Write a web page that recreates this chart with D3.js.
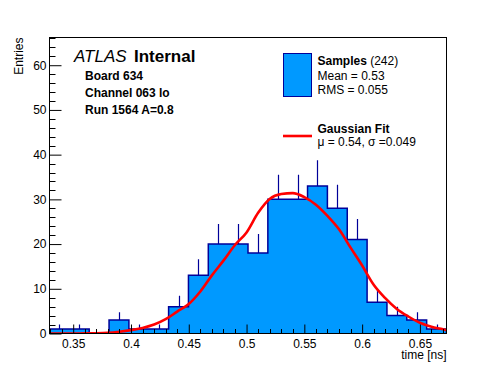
<!DOCTYPE html>
<html>
<head>
<meta charset="utf-8">
<script src="https://cdn.jsdelivr.net/npm/d3@7"></script>
<style>
  html, body { margin: 0; padding: 0; background: #fff; }
  svg { display: block; font-family: "Liberation Sans", Arial, Helvetica, sans-serif; }
</style>
</head>
<body>
<div id="chart"></div>
<script>
// histogram: 20 equal bins across the x range
var xRange = [0.3295, 0.673];
var counts = [1, 1, 0, 3, 1, 1, 6, 13, 20, 20, 18, 30, 30, 33, 28, 21, 7, 4, 3, 1];

// gaussian fit curve
var fitX = [0.33, 0.34, 0.35, 0.36, 0.37, 0.38, 0.39, 0.40, 0.41, 0.42, 0.43, 0.44,
            0.45, 0.46, 0.47, 0.48, 0.49, 0.50, 0.51, 0.52, 0.53, 0.54, 0.55, 0.56,
            0.57, 0.58, 0.59, 0.60, 0.61, 0.62, 0.63, 0.64, 0.65, 0.66, 0.67, 0.673];
var fitY = [0, 0, 0, 0.02, 0.05, 0.15, 0.4, 0.75, 1.25, 2.0, 3.2, 4.9,
            6.6, 9.4, 13.0, 16.3, 19.8, 22.6, 27.0, 30.1, 31.2, 31.4, 30.5, 28.8,
            26.3, 23.3, 19.2, 15.2, 10.9, 7.9, 5.5, 3.8, 2.4, 1.5, 0.95, 0.75];

var xTicks = [0.35, 0.4, 0.45, 0.5, 0.55, 0.6, 0.65];
var yTicks = [0, 10, 20, 30, 40, 50, 60];
var yMax = 66.2;

var infoLines = ["Board 634", "Channel 063 lo", "Run 1564 A=0.8"];

var width = 496, height = 372;
var frame = {left: 49.5, right: 446.5, top: 37.5, bottom: 333.5};

var fillColor = "#0099ff",
    lineColor = "#000099",
    fitColor = "#ff0000";

var svg = d3.select("#chart")
    .append("svg")
    .attr("width", width)
    .attr("height", height);

var x = d3.scaleLinear().domain(xRange).range([frame.left, frame.right]);
var y = d3.scaleLinear().domain([0, yMax]).range([frame.bottom, frame.top]);

var binW = (xRange[1] - xRange[0]) / counts.length;
var bins = counts.map(function(c, i) {
    return {x0: xRange[0] + i * binW, x1: xRange[0] + (i + 1) * binW, n: c};
});

svg.append("defs").append("clipPath").attr("id", "plotClip")
    .append("rect")
    .attr("x", frame.left).attr("y", frame.top)
    .attr("width", frame.right - frame.left)
    .attr("height", frame.bottom - frame.top);

var plot = svg.append("g").attr("clip-path", "url(#plotClip)");

// step points for the histogram
var steps = bins.map(function(b) { return [b.x0, b.n]; });
steps.push([xRange[1], counts[counts.length - 1]]);

plot.append("path")
    .datum(steps)
    .attr("fill", fillColor)
    .attr("d", d3.area()
        .x(function(d) { return x(d[0]); })
        .y0(y(0))
        .y1(function(d) { return y(d[1]); })
        .curve(d3.curveStepAfter));

var outline = [[xRange[0], 0]].concat(steps, [[xRange[1], 0]]);
plot.append("path")
    .datum(outline)
    .attr("fill", "none")
    .attr("stroke", lineColor)
    .attr("stroke-width", 1.5)
    .attr("d", d3.line()
        .x(function(d) { return x(d[0]); })
        .y(function(d) { return y(d[1]); })
        .curve(d3.curveStepAfter));

// error bars (only the part above the bar shows)
plot.append("g")
    .selectAll("line")
    .data(bins.filter(function(b) { return b.n > 0; }))
    .enter()
    .append("line")
    .attr("x1", function(b) { return Math.round(x((b.x0 + b.x1) / 2)) + 0.5; })
    .attr("x2", function(b) { return Math.round(x((b.x0 + b.x1) / 2)) + 0.5; })
    .attr("y1", function(b) { return y(b.n); })
    .attr("y2", function(b) { return y(b.n + Math.sqrt(b.n)); })
    .attr("stroke", lineColor)
    .attr("stroke-width", 1.2);

// fit curve
plot.append("path")
    .datum(fitX.map(function(v, i) { return [v, fitY[i]]; }))
    .attr("fill", "none")
    .attr("stroke", fitColor)
    .attr("stroke-width", 2.6)
    .attr("d", d3.line()
        .x(function(d) { return x(d[0]); })
        .y(function(d) { return y(d[1]); })
        .curve(d3.curveMonotoneX));

// axes, ROOT style: ticks point into the frame
var xAxis = d3.axisBottom(x)
    .tickValues(xTicks)
    .tickSizeInner(-9)
    .tickSizeOuter(0)
    .tickPadding(5.5)
    .tickFormat(d3.format("~g"));

var gx = svg.append("g")
    .attr("transform", "translate(0," + frame.bottom + ")")
    .call(xAxis);
gx.select(".domain").remove();
gx.selectAll("text").attr("font-size", 12).attr("font-family", null).attr("fill", "#000");

var xMinor = d3.range(0.33, 0.6705, 0.01).filter(function(v) {
    return !xTicks.some(function(t) { return Math.abs(t - v) < 1e-6; });
});
svg.append("g").selectAll("line")
    .data(xMinor).enter().append("line")
    .attr("x1", function(d) { return Math.round(x(d)) + 0.5; })
    .attr("x2", function(d) { return Math.round(x(d)) + 0.5; })
    .attr("y1", frame.bottom)
    .attr("y2", frame.bottom - 4.5)
    .attr("stroke", "#000");

var yAxis = d3.axisLeft(y)
    .tickValues(yTicks)
    .tickSizeInner(-12)
    .tickSizeOuter(0)
    .tickPadding(3);

var gy = svg.append("g")
    .attr("transform", "translate(" + frame.left + ",0)")
    .call(yAxis);
gy.select(".domain").remove();
gy.selectAll("text").attr("font-size", 12).attr("font-family", null).attr("fill", "#000");

var yMinor = d3.range(2, yMax, 2).filter(function(v) { return v % 10 !== 0; });
svg.append("g").selectAll("line")
    .data(yMinor).enter().append("line")
    .attr("x1", frame.left)
    .attr("x2", frame.left + 6)
    .attr("y1", function(d) { return Math.round(y(d)) + 0.5; })
    .attr("y2", function(d) { return Math.round(y(d)) + 0.5; })
    .attr("stroke", "#000");

svg.append("rect")
    .attr("x", frame.left)
    .attr("y", frame.top)
    .attr("width", frame.right - frame.left)
    .attr("height", frame.bottom - frame.top)
    .attr("fill", "none")
    .attr("stroke", "#000");

svg.append("text")
    .attr("x", frame.right)
    .attr("y", 358.5)
    .attr("text-anchor", "end")
    .attr("font-size", 12)
    .text("time [ns]");

svg.append("text")
    .attr("transform", "translate(23," + frame.top + ") rotate(-90)")
    .attr("text-anchor", "end")
    .attr("font-size", 12)
    .text("Entries");

// ATLAS label block
svg.append("text")
    .attr("x", 74)
    .attr("y", 62)
    .attr("font-size", 17)
    .attr("font-style", "italic")
    .text("ATLAS");
svg.append("text")
    .attr("x", 134)
    .attr("y", 62)
    .attr("font-size", 17)
    .attr("font-weight", "bold")
    .text("Internal");

svg.append("g").selectAll("text")
    .data(infoLines).enter().append("text")
    .attr("x", 85)
    .attr("y", function(d, i) { return 80 + i * 17; })
    .attr("font-size", 12)
    .attr("font-weight", "bold")
    .text(function(d) { return d; });

// legend
var leg = svg.append("g");
leg.append("rect")
    .attr("x", 283.5)
    .attr("y", 53.5)
    .attr("width", 28)
    .attr("height", 43)
    .attr("fill", fillColor)
    .attr("stroke", lineColor);

var t1 = leg.append("text").attr("x", 317.5).attr("y", 65).attr("font-size", 12);
t1.append("tspan").attr("font-weight", "bold").text("Samples");
t1.append("tspan").text(" (242)");
leg.append("text").attr("x", 317.5).attr("y", 79.5).attr("font-size", 12).text("Mean = 0.53");
leg.append("text").attr("x", 317.5).attr("y", 93.5).attr("font-size", 12).text("RMS = 0.055");

leg.append("line")
    .attr("x1", 283).attr("x2", 312)
    .attr("y1", 136).attr("y2", 136)
    .attr("stroke", fitColor)
    .attr("stroke-width", 2.6);
leg.append("text").attr("x", 317.5).attr("y", 132.5).attr("font-size", 12)
    .attr("font-weight", "bold").text("Gaussian Fit");
leg.append("text").attr("x", 317.5).attr("y", 146).attr("font-size", 12)
    .text("\u03bc = 0.54, \u03c3 =0.049");
</script>
</body>
</html>
